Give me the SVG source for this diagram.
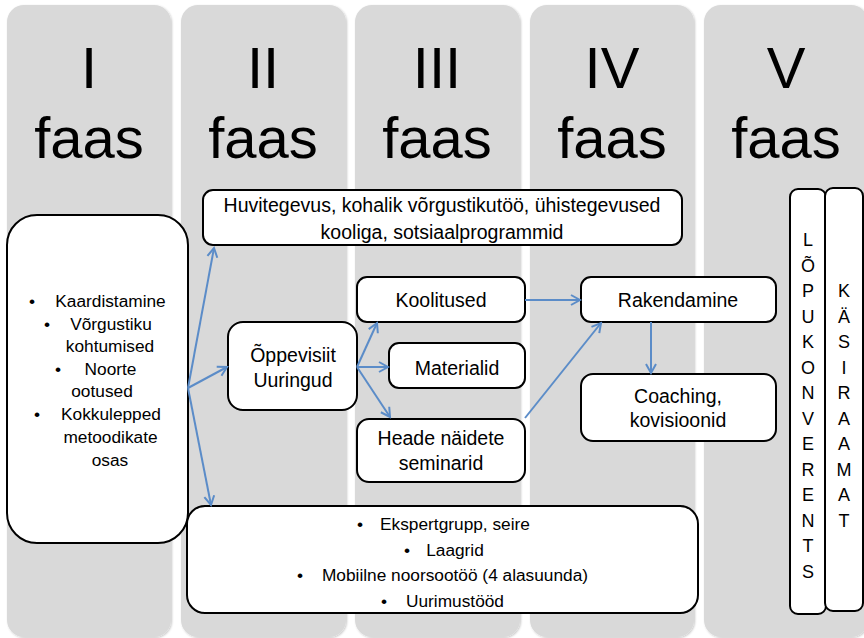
<svg xmlns="http://www.w3.org/2000/svg" width="864" height="638" viewBox="0 0 864 638">
<style>
.col{fill:#d9d9d9;}
.hd{font-family:"Liberation Sans",Arial,sans-serif;font-size:58px;fill:#000;text-anchor:middle;}
.box{fill:#fff;stroke:#000;stroke-width:2;}
.t{font-family:"Liberation Sans",Arial,sans-serif;font-size:19.5px;fill:#000;text-anchor:middle;}
.s{font-family:"Liberation Sans",Arial,sans-serif;font-size:17.3px;fill:#000;text-anchor:middle;}
.v{font-family:"Liberation Sans",Arial,sans-serif;font-size:18px;fill:#000;text-anchor:middle;}
.ar{fill:none;stroke:#5b8cc8;stroke-width:2;marker-end:url(#ah);}
</style>
<defs>
<filter id="sh" x="-5%" y="-5%" width="110%" height="110%">
<feDropShadow dx="1" dy="1" stdDeviation="1.2" flood-color="#000" flood-opacity="0.22"/>
</filter>
<marker id="ah" markerUnits="userSpaceOnUse" markerWidth="14" markerHeight="14" viewBox="0 0 14 14" refX="12" refY="7" orient="auto">
<path d="M3,2 L12,7 L3,12" fill="none" stroke="#5b8cc8" stroke-width="2"/>
</marker>
</defs>
<rect width="864" height="638" fill="#fff"/>
<g id="columns" filter="url(#sh)">
<rect class="col" x="7" y="5" width="164" height="632" rx="17"/>
<rect class="col" x="181" y="5" width="165" height="632" rx="17"/>
<rect class="col" x="355" y="5" width="165" height="632" rx="17"/>
<rect class="col" x="530" y="5" width="164" height="632" rx="17"/>
<rect class="col" x="704" y="5" width="164" height="632" rx="17"/>
</g>
<g id="headings">
<text class="hd" x="89" y="88">I</text><text class="hd" x="89" y="158">faas</text>
<text class="hd" x="263" y="88">II</text><text class="hd" x="263" y="158">faas</text>
<text class="hd" x="437" y="88">III</text><text class="hd" x="437" y="158">faas</text>
<text class="hd" x="612" y="88">IV</text><text class="hd" x="612" y="158">faas</text>
<text class="hd" x="786" y="88">V</text><text class="hd" x="786" y="158">faas</text>
</g>
<g id="n-left">
<rect class="box" x="7" y="215" width="181" height="328" rx="30"/>
<text class="s" x="32" y="307">•</text><text class="s" x="110.5" y="307">Kaardistamine</text>
<text class="s" x="47" y="330">•</text><text class="s" x="111" y="330">Võrgustiku</text>
<text class="s" x="110" y="352">kohtumised</text>
<text class="s" x="58" y="375">•</text><text class="s" x="110.5" y="375">Noorte</text>
<text class="s" x="102" y="397">ootused</text>
<text class="s" x="37" y="420">•</text><text class="s" x="111" y="420">Kokkulepped</text>
<text class="s" x="110.5" y="443">metoodikate</text>
<text class="s" x="110" y="466">osas</text>
</g>
<g id="n-top">
<rect class="box" x="203" y="190" width="479" height="55" rx="10"/>
<text class="t" x="442" y="212">Huvitegevus, kohalik võrgustikutöö, ühistegevused</text>
<text class="t" x="442" y="239">kooliga, sotsiaalprogrammid</text>
</g>
<g id="n-oppevisiit">
<rect class="box" x="228" y="322" width="129" height="88" rx="15"/>
<text class="t" x="293" y="362">Õppevisiit</text>
<text class="t" x="293" y="387">Uuringud</text>
</g>
<g id="n-koolitused">
<rect class="box" x="357" y="277" width="168" height="45" rx="10"/>
<text class="t" x="441" y="307">Koolitused</text>
</g>
<g id="n-materialid">
<rect class="box" x="389" y="343" width="136" height="45" rx="10"/>
<text class="t" x="457" y="375">Materialid</text>
</g>
<g id="n-heade">
<rect class="box" x="357" y="419" width="168" height="63" rx="12"/>
<text class="t" x="441" y="445">Heade näidete</text>
<text class="t" x="441" y="470">seminarid</text>
</g>
<g id="n-rakendamine">
<rect class="box" x="581" y="277" width="195" height="45" rx="10"/>
<text class="t" x="678" y="307">Rakendamine</text>
</g>
<g id="n-coaching">
<rect class="box" x="581" y="374" width="195" height="67" rx="12"/>
<text class="t" x="678" y="403">Coaching,</text>
<text class="t" x="678" y="427">kovisioonid</text>
</g>
<g id="n-bottom">
<rect class="box" x="187" y="506" width="511" height="107" rx="18"/>
<text class="s" x="360" y="530">•</text><text class="s" x="455" y="530">Ekspertgrupp, seire</text>
<text class="s" x="407" y="555.5">•</text><text class="s" x="455" y="555.5">Laagrid</text>
<text class="s" x="300" y="581">•</text><text class="s" x="455" y="581">Mobiilne noorsootöö (4 alasuunda)</text>
<text class="s" x="384" y="606.5">•</text><text class="s" x="455" y="606.5">Uurimustööd</text>
</g>
<g id="n-lopukonverents">
<rect class="box" x="790" y="189" width="36" height="425" rx="8"/>
<text class="v" x="808" y="246">L</text>
<text class="v" x="808" y="271.5">Õ</text>
<text class="v" x="808" y="297">P</text>
<text class="v" x="808" y="322.5">U</text>
<text class="v" x="808" y="348">K</text>
<text class="v" x="808" y="373.5">O</text>
<text class="v" x="808" y="399">N</text>
<text class="v" x="808" y="424.5">V</text>
<text class="v" x="808" y="450">E</text>
<text class="v" x="808" y="475.5">R</text>
<text class="v" x="808" y="501">E</text>
<text class="v" x="808" y="526.5">N</text>
<text class="v" x="808" y="552">T</text>
<text class="v" x="808" y="577.5">S</text>
</g>
<g id="n-kasiraamat">
<rect class="box" x="825" y="188" width="38" height="423" rx="8"/>
<text class="v" x="844" y="297">K</text>
<text class="v" x="844" y="322.5">Ä</text>
<text class="v" x="844" y="348">S</text>
<text class="v" x="844" y="373.5">I</text>
<text class="v" x="844" y="399">R</text>
<text class="v" x="844" y="424.5">A</text>
<text class="v" x="844" y="450">A</text>
<text class="v" x="844" y="475.5">M</text>
<text class="v" x="844" y="501">A</text>
<text class="v" x="844" y="526.5">T</text>
</g>
<g id="connectors">
<line class="ar" x1="188" y1="388" x2="214" y2="248"/>
<line class="ar" x1="188" y1="388" x2="227" y2="367"/>
<line class="ar" x1="188" y1="388" x2="211" y2="505"/>
<line class="ar" x1="357" y1="367" x2="377" y2="323"/>
<line class="ar" x1="357" y1="367" x2="388" y2="367"/>
<line class="ar" x1="357" y1="367" x2="390" y2="417"/>
<line class="ar" x1="525" y1="300" x2="580" y2="300"/>
<line class="ar" x1="525" y1="418" x2="601" y2="323"/>
<line class="ar" x1="651" y1="322" x2="651" y2="373"/>
</g>
</svg>
